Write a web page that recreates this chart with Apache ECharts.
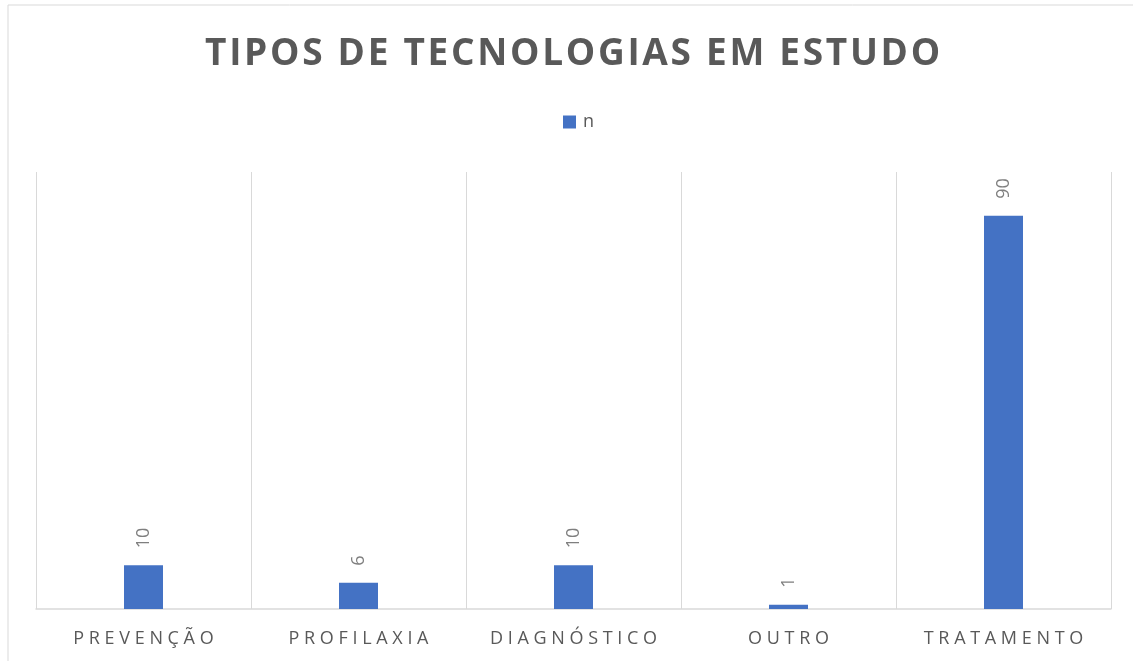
<!DOCTYPE html>
<html>
<head>
<meta charset="utf-8">
<script src="https://cdn.jsdelivr.net/npm/echarts@6/dist/echarts.min.js"></script>
<style>
html,body{margin:0;padding:0;background:#fff;}
#chart{width:1133px;height:661px;}
</style>
</head>
<body>
<div id="chart"></div>
<script>
// dados do gráfico
var categorias = ['PREVENÇÃO', 'PROFILAXIA', 'DIAGNÓSTICO', 'OUTRO', 'TRATAMENTO'];
var valores = [10, 6, 10, 1, 90];
var serieNome = 'n';
var titulo = 'TIPOS DE TECNOLOGIAS EM ESTUDO';

// espaçamento entre letras
function espacar(s, sep) {
	return s.split('').join(sep);
}

var chart = echarts.init(document.getElementById('chart'));
chart.setOption({
	backgroundColor: '#fff',
	animation: false,
	graphic: [{
		type: 'rect',
		shape: { x: 8, y: 5, width: 1140, height: 670 },
		style: { fill: 'none', stroke: '#d9d9d9', lineWidth: 1 },
		silent: true
	}],
	title: {
		text: espacar(titulo, '{h|\u200A}'),
		left: 200,
		top: 31,
		textStyle: {
			fontFamily: 'Open Sans',
			fontWeight: 'bold',
			fontSize: 37,
			color: '#595959',
			rich: {
				h: { fontFamily: 'Open Sans', fontSize: 27 }
			}
		}
	},
	legend: {
		data: [serieNome],
		top: 113,
		left: 563,
		padding: 0,
		itemWidth: 13,
		itemHeight: 13,
		icon: 'rect',
		textStyle: { fontFamily: 'Open Sans', fontSize: 18, color: '#595959', padding: [0, 0, 0, 2] }
	},
	grid: { left: 36, right: 22, top: 172, bottom: 52 },
	xAxis: {
		type: 'category',
		data: categorias,
		axisLine: { lineStyle: { color: '#d9d9d9', width: 1.5 } },
		axisTick: { show: false },
		splitLine: { show: true, interval: 0, lineStyle: { color: '#d9d9d9', width: 1 } },
		axisLabel: {
			interval: 0,
			margin: 21,
			fontFamily: 'Open Sans',
			fontSize: 18,
			color: '#595959',
			formatter: function (v) { return espacar(v, ' '); }
		}
	},
	yAxis: {
		type: 'value',
		min: 0,
		max: 100,
		show: false,
		splitLine: { show: false }
	},
	series: [{
		name: serieNome,
		type: 'bar',
		data: valores,
		barWidth: 39,
		itemStyle: { color: '#4472c4' },
		label: {
			show: true,
			position: 'top',
			rotate: 90,
			align: 'left',
			verticalAlign: 'middle',
			distance: 17,
			fontFamily: 'Open Sans',
			fontSize: 18,
			color: '#7f7f7f'
		}
	}]
});
</script>
</body>
</html>
